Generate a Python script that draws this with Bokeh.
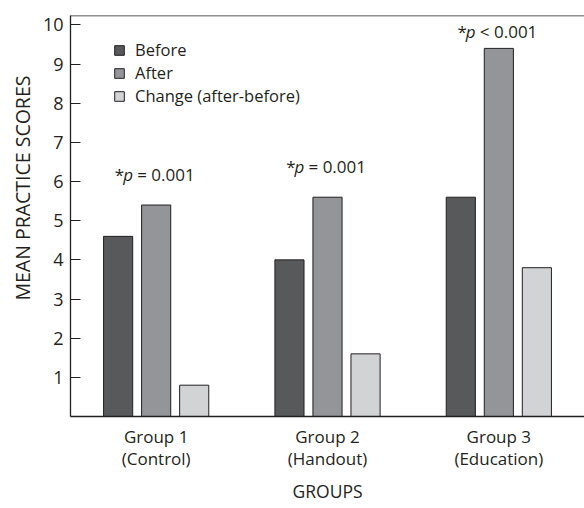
from bokeh.plotting import figure
from bokeh.models import (ColumnDataSource, FactorRange, Range1d, FixedTicker,
                          Span, Title, Legend)
from bokeh.transform import dodge
from bokeh.core.properties import value
from bokeh.embed import file_html
from bokeh.resources import INLINE

# Mean practice scores per group
groups = ["Group 1\n(Control)", "Group 2\n(Handout)", "Group 3\n(Education)"]
before = [4.6, 4.0, 5.6]
after = [5.4, 5.6, 9.4]
change = [0.8, 1.6, 3.8]

# Significance notes printed over each group
p_signs = ["=", "=", "<"]
p_levels = ["0.001", "0.001", "0.001"]

y_ticks = [1, 2, 3, 4, 5, 6, 7, 8, 9, 10]

FONT = "Open Sans"
INK = "#231f20"
COL_BEFORE = "#58595b"
COL_AFTER = "#939598"
COL_CHANGE = "#d1d3d4"

p = figure(x_range=FactorRange(*groups), y_range=Range1d(0, 10.24),
           width=584, height=508, output_backend="svg", toolbar_location=None,
           min_border_left=70, min_border_right=0, min_border_top=15,
           min_border_bottom=92)
p.outline_line_color = None
p.grid.visible = False
p.background_fill_color = "white"
p.border_fill_color = "white"

src = ColumnDataSource(dict(groups=groups, before=before, after=after,
                            change=change))

bar_w = 0.17
step = 0.222
bar_kw = dict(source=src, width=bar_w, line_color=INK, line_width=1)
r_before = p.vbar(x=dodge("groups", -step, range=p.x_range), top="before",
                  fill_color=COL_BEFORE, **bar_kw)
r_after = p.vbar(x=dodge("groups", 0, range=p.x_range), top="after",
                 fill_color=COL_AFTER, **bar_kw)
r_change = p.vbar(x=dodge("groups", step, range=p.x_range), top="change",
                  fill_color=COL_CHANGE, **bar_kw)

# "*p = 0.001" notes: star, italic p and the rest as separate pieces
note_src = ColumnDataSource(dict(
    groups=groups, after=after,
    rest=[f"{s} {v}" for s, v in zip(p_signs, p_levels)],
    lift=[-31, -31, -16.5],
))
note_kw = dict(source=note_src, text_font=value(FONT), text_font_size="17px",
               text_color=INK, text_baseline="alphabetic")
p.text(x="groups", y="after", text=value("*"), text_align="right",
       x_offset=-32, y_offset="lift", **note_kw)
p.text(x="groups", y="after", text=value("p"), text_align="left",
       text_font_style="italic", x_offset=-33, y_offset="lift", **note_kw)
p.text(x="groups", y="after", text="rest", text_align="left",
       x_offset=-19, y_offset="lift", **note_kw)

# top border line
p.add_layout(Span(location=10.24, dimension="width", line_color=INK,
                  line_width=1.3))

legend = Legend(items=[("Before", [r_before]), ("After", [r_after]),
                       ("Change (after-before)", [r_change])],
                location=(43, 309))
legend.label_text_font = FONT
legend.label_text_font_size = "16.5px"
legend.label_text_color = INK
legend.glyph_width = 12
legend.glyph_height = 12
legend.label_standoff = 10
legend.spacing = 0
legend.padding = 0
legend.margin = 0
legend.border_line_color = None
legend.background_fill_alpha = 0
p.add_layout(legend)

yax = p.yaxis[0]
yax.ticker = FixedTicker(ticks=y_ticks)
yax.major_tick_in = 10
yax.major_tick_out = 0
yax.minor_tick_line_color = None
yax.major_tick_line_color = INK
yax.axis_line_color = INK
yax.axis_line_width = 1.3
yax.major_label_standoff = 7
yax.major_label_text_font = FONT
yax.major_label_text_font_size = "18px"
yax.major_label_text_color = INK

xax = p.xaxis[0]
xax.major_tick_in = 0
xax.major_tick_out = 0
xax.axis_line_color = INK
xax.axis_line_width = 1.3
xax.major_label_standoff = 8
xax.major_label_text_font = FONT
xax.major_label_text_font_size = "17px"
xax.major_label_text_color = INK
xax.major_label_text_line_height = 0.97

# axis titles as side titles so they can sit off-centre
xtitle = Title(text="GROUPS", align="center", vertical_align="bottom",
               text_font=FONT, text_font_size="17.5px",
               text_font_style="normal", text_color=INK, standoff=9,
               text_line_height=0.8)
p.add_layout(xtitle, "below")

ytitle = Title(text="MEAN PRACTICE SCORES", align="left", offset=116,
               text_font=FONT, text_font_size="19.5px",
               text_font_style="normal", text_color=INK, standoff=8)
p.add_layout(ytitle, "left")

open("out.html", "w").write(file_html(p, INLINE))
